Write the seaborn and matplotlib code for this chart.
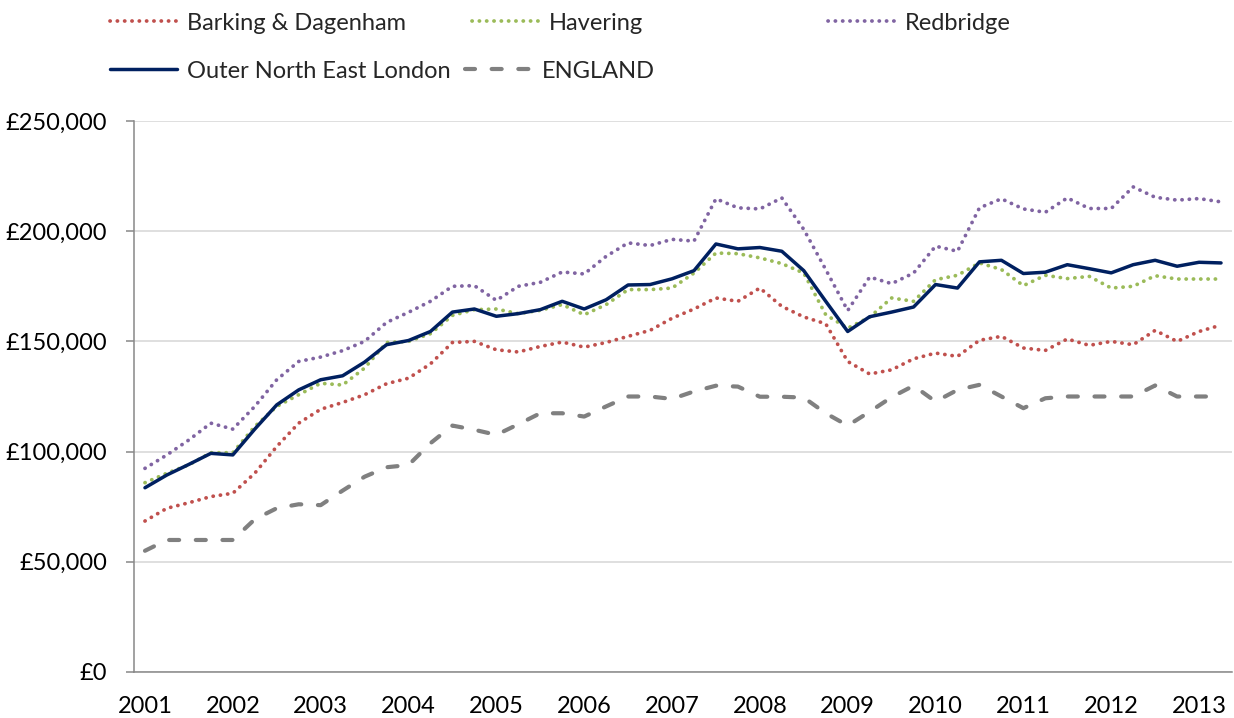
import numpy as np
import pandas as pd
import matplotlib
matplotlib.use("Agg")
import matplotlib.pyplot as plt
from matplotlib.lines import Line2D
from matplotlib.ticker import FuncFormatter
import seaborn as sns

# Quarterly mean house prices, 2001 Q1 - 2013 Q2
years = list(range(2001, 2014))
quarters = [f"{y} Q{q}" for y in years for q in range(1, 5)][:50]

barking = [68500, 74300, 76800, 79600, 81100, 90200, 102300, 112900, 119200, 122300,
           125800, 130800, 133300, 139800, 149500, 150000, 146200, 145200, 147700, 149700,
           147400, 149500, 152300, 155000, 160500, 164700, 169700, 168200, 174200, 165900,
           161100, 158000, 140900, 135200, 137100, 142100, 144700, 143200, 150500, 152300,
           147000, 145900, 151100, 148200, 150000, 148500, 155000, 150000, 154500, 157400]
havering = [85900, 90200, 94000, 99500, 99500, 111400, 120500, 125800, 131000, 130200,
            137900, 149500, 150000, 153500, 161800, 164400, 164700, 162600, 164100, 166700,
            162100, 166700, 173500, 173500, 174200, 181000, 190100, 189800, 187900, 185300,
            181000, 162100, 156000, 161000, 169700, 168200, 178000, 180000, 185600, 182600,
            175300, 180000, 178500, 179500, 174200, 175000, 179800, 178300, 178300, 178300]
redbridge = [92400, 98500, 105300, 112900, 110200, 120500, 132600, 140900, 142900, 145800,
             150000, 158600, 163200, 168200, 175000, 175300, 168600, 175000, 176800, 181500,
             180600, 188600, 194700, 193500, 196300, 195500, 214700, 210600, 210100, 215100,
             200800, 182600, 164000, 179200, 176200, 181000, 193200, 190900, 210600, 214700,
             210100, 208600, 215100, 210300, 210300, 220100, 215400, 214100, 214800, 213300]
outer_ne_london = [83600, 89400, 94200, 99200, 98500, 110200, 121200, 128000, 132600, 134400,
                   140600, 148500, 150400, 154500, 163300, 164700, 161400, 162600, 164400, 168200,
                   164700, 168900, 175600, 175800, 178400, 182100, 194200, 192000, 192600, 190900,
                   182100, 168200, 154500, 161200, 163300, 165600, 175800, 174200, 186100, 186800,
                   180800, 181400, 184800, 183000, 181100, 184800, 186800, 184100, 185900, 185600]
england = [55000, 59900, 59900, 59900, 59900, 69300, 74300, 76100, 75700, 82300,
           88600, 92900, 93900, 103800, 111800, 109900, 107600, 112400, 117400, 117400,
           115900, 120500, 125000, 125000, 123900, 127300, 129900, 129500, 124900, 124900,
           124500, 117400, 111800, 118100, 124700, 129900, 122700, 128000, 130300, 125000,
           119700, 124200, 125000, 125000, 125000, 125000, 130000, 125000, 125000, 125000]

areas = ["Barking & Dagenham", "Havering", "Redbridge", "Outer North East London", "ENGLAND"]
values = [barking, havering, redbridge, outer_ne_london, england]
year_labels = [str(y) for y in years]

df = pd.DataFrame({"quarter": quarters})
for name, vals in zip(areas, values):
    df[name] = vals
df["pos"] = np.arange(len(quarters))
long_df = df.melt(id_vars=["quarter", "pos"], value_vars=areas,
                  var_name="area", value_name="price")

dotted = dict(lw=2.7, linestyle=(0, (0.05, 1.9)), dash_capstyle="round")
styles = {
    "Barking & Dagenham": dict(color="#C0504D", **dotted),
    "Havering": dict(color="#9BBB59", **dotted),
    "Redbridge": dict(color="#8064A2", **dotted),
    "Outer North East London": dict(color="#002060", lw=2.5, linestyle="-",
                                    solid_capstyle="round", solid_joinstyle="round"),
    "ENGLAND": dict(color="#808080", lw=3.0, linestyle=(0, (2.4, 4.0)),
                    dash_capstyle="round"),
}

sns.set_style("white")
plt.rcParams["font.family"] = ["Lato", "DejaVu Sans"]
FS = 17

fig = plt.figure(figsize=(12.34, 7.18), dpi=100)
ax = fig.add_axes([134 / 1234, 46 / 718, 1098 / 1234, 551 / 718])

for name in areas:
    sub = long_df[long_df["area"] == name]
    sns.lineplot(data=sub, x="pos", y="price", ax=ax, legend=False,
                 estimator=None, sort=False, **styles[name])
    line = ax.lines[-1]
    if "dash_capstyle" in styles[name]:
        line.set_dash_capstyle(styles[name]["dash_capstyle"])

ax.set_xlim(-0.5, len(quarters) - 0.5)
ax.set_ylim(0, 250000)
ax.set_xlabel("")
ax.set_ylabel("")

ax.set_yticks(np.arange(0, 250001, 50000))
ax.yaxis.set_major_formatter(FuncFormatter(lambda v, p: f"£{v:,.0f}"))
ax.set_xticks(np.arange(0, len(quarters), 4))
ax.set_xticklabels(year_labels)
ax.set_xticks(np.arange(-0.5, len(quarters), 1), minor=True)

ax.tick_params(axis="x", which="major", length=0, pad=17, labelsize=FS, labelcolor="black")
ax.tick_params(axis="x", which="minor", length=5.5, width=1.1, color="#888888", direction="out")
ax.tick_params(axis="y", which="major", length=5.8, width=1.1, color="#888888",
               direction="out", pad=13.5, labelsize=FS, labelcolor="black", left=True)

ax.yaxis.grid(True, color="#D9D9D9", lw=1.2)
ax.xaxis.grid(False)
ax.set_axisbelow(True)
for side in ["top", "right"]:
    ax.spines[side].set_visible(False)
for side in ["left", "bottom"]:
    ax.spines[side].set_color("#888888")
    ax.spines[side].set_linewidth(1.1)

# Legend keys laid out on a fixed grid above the plot
key_pos = {
    "Barking & Dagenham": (110, 23),
    "Havering": (472, 23),
    "Redbridge": (828, 23),
    "Outer North East London": (110, 71),
    "ENGLAND": (465, 71),
}
for name in areas:
    st = styles[name]
    handle = Line2D([], [], **st)
    x_px, y_px = key_pos[name]
    fig.legend([handle], [name], loc="center left",
               bbox_to_anchor=(x_px / 1234, 1 - y_px / 718),
               frameon=False, fontsize=FS, handlelength=2.84, handletextpad=0.42,
               borderpad=0, borderaxespad=0)

fig.savefig("out.png", dpi=100)
